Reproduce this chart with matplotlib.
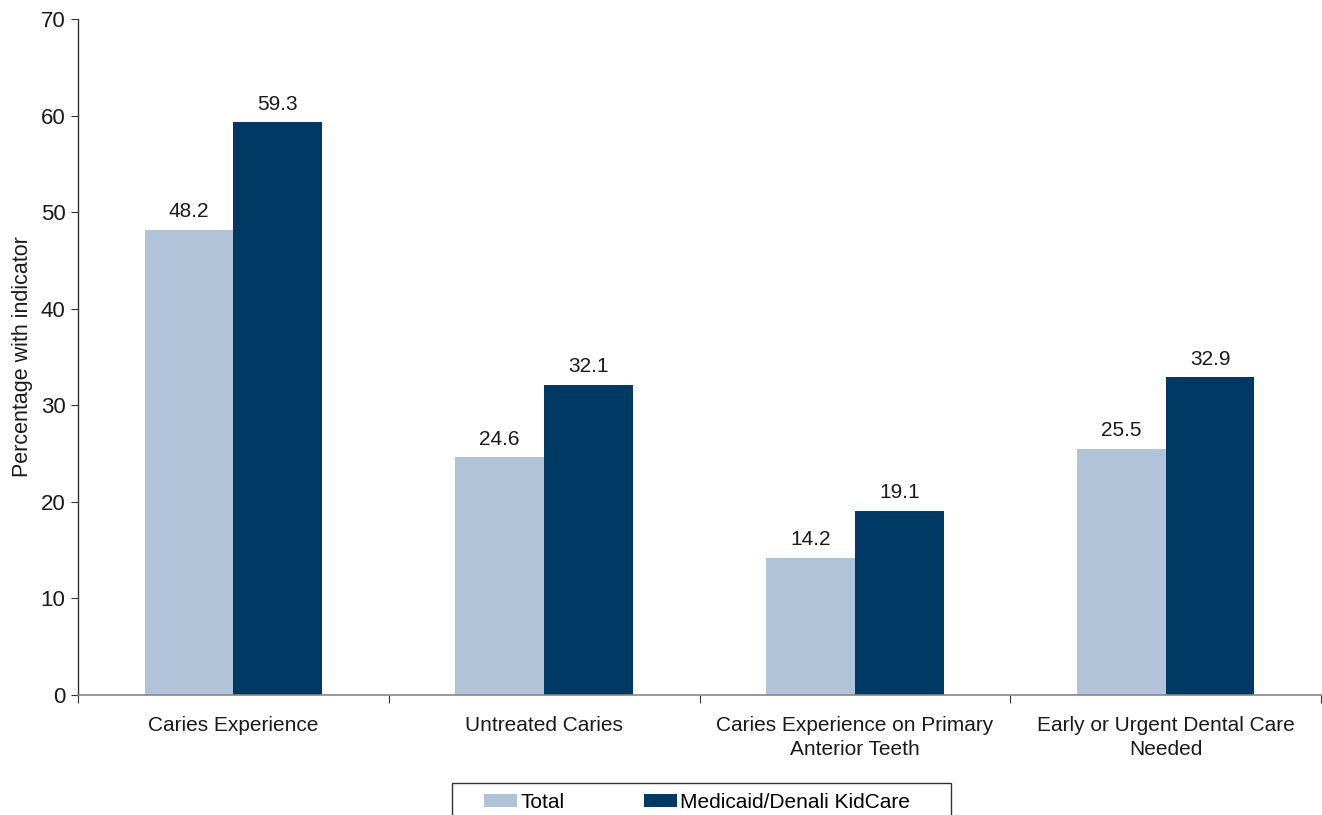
import matplotlib
matplotlib.use("Agg")
import matplotlib.pyplot as plt
from matplotlib.patches import Patch, Rectangle
import numpy as np

categories = [
    "Caries Experience",
    "Untreated Caries",
    "Caries Experience on Primary\nAnterior Teeth",
    "Early or Urgent Dental Care\nNeeded",
]
total = [48.2, 24.6, 14.2, 25.5]
medicaid = [59.3, 32.1, 19.1, 32.9]
series_names = ["Total", "Medicaid/Denali KidCare"]
colors = ["#b0c3d8", "#003963"]

plt.rcParams["font.family"] = ["Liberation Sans", "DejaVu Sans"]

W, H = 1322, 815
fig = plt.figure(figsize=(W / 100, H / 100), dpi=100)
ax = fig.add_axes([78 / W, 120 / H, 1243 / W, 676 / H])

x = np.arange(len(categories))
w = 0.286
b1 = ax.bar(x - w / 2, total, w, color=colors[0], label=series_names[0])
b2 = ax.bar(x + w / 2, medicaid, w, color=colors[1], label=series_names[1])

for bars, vals in ((b1, total), (b2, medicaid)):
    for rect, v in zip(bars, vals):
        ax.text(rect.get_x() + rect.get_width() / 2, v + 0.9, f"{v:.1f}",
                ha="center", va="bottom", fontsize=15, color="#1a1a1a")

ax.set_xlim(-0.5, len(categories) - 0.5)
ax.set_ylim(0, 70)
ax.set_yticks(range(0, 71, 10))
ax.tick_params(axis="y", labelsize=16, direction="out", length=5,
               color="#333333", labelcolor="#1a1a1a", pad=4)

# category labels centred under each group, ticks at group boundaries
ax.set_xticks(np.arange(-0.5, len(categories), 1.0))
ax.set_xticklabels([])
ax.tick_params(axis="x", direction="out", length=6, color="#333333")
for xi, lab in zip(x, categories):
    ax.text(xi, -2.2, lab, ha="center", va="top", fontsize=15,
            color="#1a1a1a", linespacing=1.3)

for s in ("top", "right"):
    ax.spines[s].set_visible(False)
ax.spines["left"].set_color("#333333")
ax.spines["bottom"].set_color("#888888")
ax.spines["left"].set_linewidth(1.0)
ax.spines["bottom"].set_linewidth(1.2)

ax.set_ylabel("Percentage with indicator", fontsize=15.5, color="#1a1a1a")
ax.yaxis.set_label_coords(-0.0365, 0.5)

# legend box (extends past the lower edge of the figure)
fig.patches.append(Rectangle((452 / W, -0.01), (951 - 452) / W,
                             (H - 783) / H + 0.01, transform=fig.transFigure,
                             facecolor="white", edgecolor="#333333",
                             linewidth=1.0, zorder=1))
handles = [Patch(facecolor=c, edgecolor="none") for c in colors]
leg = fig.legend(handles, series_names, loc="center left",
                 bbox_to_anchor=(484 / W, 1 - 802.5 / H), ncol=2,
                 frameon=False, fontsize=15,
                 handlelength=1.6, handleheight=0.55, handletextpad=0.15,
                 columnspacing=3.8, borderpad=0, borderaxespad=0)
leg.set_zorder(2)

fig.savefig("out.png", dpi=100)
